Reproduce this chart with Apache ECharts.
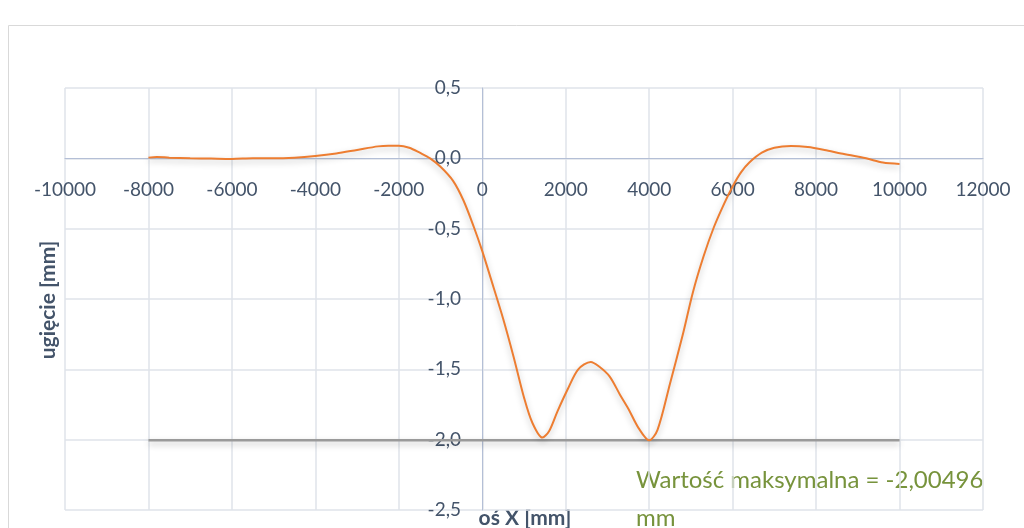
<!DOCTYPE html>
<html>
<head>
<meta charset="utf-8">
<script src="https://cdn.jsdelivr.net/npm/echarts@6/dist/echarts.min.js"></script>
<style>
html,body{margin:0;padding:0;background:#fff;}
#chart{width:1024px;height:528px;}
</style>
</head>
<body>
<div id="chart"></div>
<script>
// ugięcie belki
var xVals = [-8000, -7800, -7500, -7000, -6500, -6000, -5500, -5000, -4500, -4000, -3500, -3000, -2500, -2250, -2000, -1750, -1500, -1250, -1000, -700, -450, -200, 0, 200, 500, 750, 1000, 1200, 1440, 1600, 1800, 2050, 2300, 2600, 2800, 3050, 3300, 3500, 3750, 4000, 4200, 4500, 4800, 5050, 5300, 5550, 5800, 6000, 6200, 6400, 6700, 7000, 7400, 7800, 8200, 8600, 9200, 9600, 10000];
var yVals = [0.005, 0.01, 0.005, 0.0, -0.002, -0.004, 0.0, 0.0, 0.005, 0.017, 0.035, 0.06, 0.085, 0.09, 0.09, 0.075, 0.04, 0.0, -0.06, -0.16, -0.30, -0.49, -0.66, -0.85, -1.14, -1.41, -1.70, -1.88, -1.985, -1.94, -1.80, -1.64, -1.50, -1.447, -1.48, -1.55, -1.68, -1.78, -1.92, -2.005, -1.93, -1.60, -1.26, -0.95, -0.70, -0.49, -0.32, -0.20, -0.10, -0.03, 0.04, 0.075, 0.087, 0.08, 0.06, 0.035, 0.0, -0.03, -0.04];
var maxLineX = [-8000, 10000];
var maxValue = -2.00496;

var yTitle = 'ugięcie [mm]';
var xTitle = 'oś X [mm]';
var noteText = 'Wartość maksymalna = -2,00496\nmm';

var curve = xVals.map(function (x, i) { return [x, yVals[i]]; });
var maxLine = maxLineX.map(function (x) { return [x, maxValue]; });

var chart = echarts.init(document.getElementById('chart'));
var font = 'Lato, "Open Sans", sans-serif';
var option = {
    animation: false,
    grid: {
        left: 65,
        right: 41,
        top: 88,
        bottom: 18,
        outerBoundsMode: 'none'
    },
    xAxis: {
        type: 'value',
        min: -10000,
        max: 12000,
        interval: 2000,
        offset: -352,   // osie przecinają się w zerze
        axisLine: {
            onZero: false,
            lineStyle: { color: '#b4bfd6', width: 1 }
        },
        axisTick: { show: false },
        axisLabel: {
            margin: 22,
            color: '#44546a',
            fontSize: 19,
            fontFamily: font,
            formatter: function (v) { return String(v); }
        },
        splitLine: {
            show: true,
            lineStyle: { color: '#dfe3ea', width: 1.5 }
        }
    },
    yAxis: {
        type: 'value',
        min: -2.5,
        max: 0.5,
        interval: 0.5,
        offset: -417,
        axisLine: {
            show: true,
            onZero: false,
            lineStyle: { color: '#b4bfd6', width: 1 }
        },
        axisTick: { show: false },
        axisLabel: {
            margin: 21,
            color: '#44546a',
            fontSize: 19,
            fontFamily: font,
            formatter: function (v) { return v.toFixed(1).replace('.', ','); }
        },
        splitLine: {
            show: true,
            lineStyle: { color: '#dfe3ea', width: 1.5 }
        }
    },
    series: [
        {
            name: 'max',
            type: 'line',
            symbol: 'none',
            data: maxLine,
            lineStyle: {
                color: '#9a9a9a',
                width: 2.5,
                shadowColor: 'rgba(0,0,0,0.25)',
                shadowBlur: 6,
                shadowOffsetY: 3
            }
        },
        {
            name: 'ugięcie',
            type: 'line',
            symbol: 'none',
            smooth: 0.3,
            data: curve,
            lineStyle: {
                color: '#ed7d31',
                width: 2,
                shadowColor: 'rgba(0,0,0,0.25)',
                shadowBlur: 6,
                shadowOffsetY: 3
            }
        }
    ],
    graphic: [
        {
            type: 'rect',
            shape: { x: 8.5, y: 25.5, width: 1100, height: 600 },
            style: { fill: null, stroke: '#d9d9d9', lineWidth: 1 },
            silent: true
        },
        {
            type: 'text',
            x: 48,
            y: 300,
            rotation: Math.PI / 2,
            style: {
                text: yTitle,
                fill: '#44546a',
                font: 'bold 21px ' + font,
                textAlign: 'center',
                textVerticalAlign: 'middle'
            }
        },
        {
            type: 'text',
            x: 525,
            y: 518,
            style: {
                text: xTitle,
                fill: '#44546a',
                font: 'bold 21px ' + font,
                textAlign: 'center',
                textVerticalAlign: 'middle'
            }
        },
        {
            type: 'text',
            x: 636,
            y: 461,
            style: {
                text: noteText,
                fill: '#77933c',
                font: '24px ' + font,
                lineHeight: 38
            }
        }
    ]
};
chart.setOption(option);
</script>
</body>
</html>
